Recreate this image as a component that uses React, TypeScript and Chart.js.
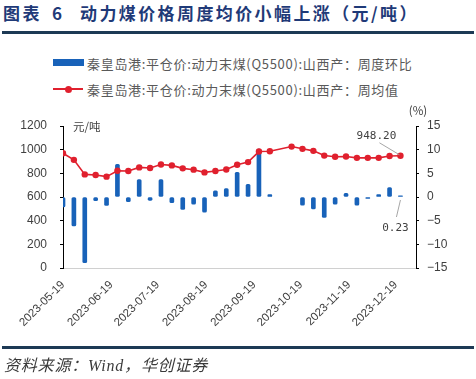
import React, { useEffect, useRef } from "react";
import { Chart, registerables } from "chart.js";

Chart.register(...registerables);

// ---- data ----
const weekDates = [
  "2023-05-19", "2023-05-26", "2023-06-02", "2023-06-09", "2023-06-16", "2023-06-23",
  "2023-06-30", "2023-07-07", "2023-07-14", "2023-07-21", "2023-07-28", "2023-08-04",
  "2023-08-11", "2023-08-18", "2023-08-25", "2023-09-01", "2023-09-08", "2023-09-15",
  "2023-09-22", "2023-09-29", "2023-10-13", "2023-10-20", "2023-10-27", "2023-11-03",
  "2023-11-10", "2023-11-17", "2023-11-24", "2023-12-01", "2023-12-08", "2023-12-15",
  "2023-12-22",
];
const avgPrice = [
  970, 914, 791, 786, 772, 822, 820, 850, 845, 875, 867, 842, 831, 808, 820, 833,
  872, 895, 984, 987, 1026, 1007, 990, 950, 940, 942, 931, 931, 931, 946, 948.2,
];
const weeklyChange: (number | null)[] = [
  -2.1, -6.1, -13.9, -0.8, -1.8, 6.9, -1.0, 3.7, -0.7, 3.7, -1.2, -2.6, -1.5, -3.2,
  1.3, 1.8, 5.2, 2.7, 10.1, 0.5, null, -1.7, -2.5, -4.3, -1.5, 0.8, -1.7, -0.3, 0.5,
  2.0, 0.23,
];
const monthTickLabels = [
  "2023-05-19", "2023-06-19", "2023-07-19", "2023-08-19", "2023-09-19",
  "2023-10-19", "2023-11-19", "2023-12-19",
];
const axisEndDate = "2024-01-01";

const seriesBarName = "秦皇岛港:平仓价:动力末煤(Q5500):山西产：周度环比";
const seriesLineName = "秦皇岛港:平仓价:动力末煤(Q5500):山西产：周均值";
const lastPriceLabel = "948.20";
const lastChangeLabel = "0.23";

// ---- helpers ----
const START = Date.UTC(2023, 4, 19);
const dayOf = (s: string) => {
  const [y, m, d] = s.split("-").map(Number);
  return Math.round((Date.UTC(y, m - 1, d) - START) / 86400000);
};
const tickDays = monthTickLabels.map(dayOf);
const tickLabelByDay: Record<number, string> = {};
monthTickLabels.forEach((l) => (tickLabelByDay[dayOf(l)] = l));

const BLUE = "#1862b9";
const RED = "#e0202e";
const TEXT = "#404040";

const annotatePlugin = {
  id: "annotate",
  afterDatasetsDraw(chart: any) {
    const { ctx, chartArea } = chart;
    ctx.save();
    ctx.fillStyle = TEXT;
    ctx.font = '11.5px "Noto Sans CJK SC"';
    ctx.textBaseline = "middle";
    ctx.textAlign = "left";
    ctx.fillText("元/吨", chartArea.left + 10, chartArea.top + 1);
    ctx.textAlign = "center";
    ctx.fillText("(%)", chartArea.right + 2, chartArea.top - 15);

    const lineMeta = chart.getDatasetMeta(0);
    const barMeta = chart.getDatasetMeta(1);
    const lp = lineMeta.data[lineMeta.data.length - 1];
    const bp = barMeta.data[barMeta.data.length - 1];
    const zeroY = chart.scales.y1.getPixelForValue(0);

    ctx.strokeStyle = "#a6a6a6";
    ctx.lineWidth = 1;
    ctx.beginPath();
    ctx.moveTo(lp.x - 21, lp.y - 13);
    ctx.lineTo(lp.x - 1, lp.y - 1);
    ctx.moveTo(bp.x - 4, zeroY + 20);
    ctx.lineTo(bp.x, zeroY + 3);
    ctx.stroke();

    ctx.fillStyle = TEXT;
    ctx.font = '11px "DejaVu Sans Mono"';
    ctx.textAlign = "center";
    ctx.fillText(lastPriceLabel, lp.x - 24, lp.y - 20);
    ctx.fillText(lastChangeLabel, bp.x - 5, zeroY + 31);
    ctx.restore();
  },
};

export default function App() {
  const ref = useRef<HTMLCanvasElement>(null);

  useEffect(() => {
    const lineData = weekDates.map((d, i) => ({ x: dayOf(d), y: avgPrice[i] }));
    const barData = weekDates
      .map((d, i) => ({ x: dayOf(d), y: weeklyChange[i] }))
      .filter((p) => p.y !== null);

    Chart.defaults.font.family = '"Liberation Sans", Arial, sans-serif';
    Chart.defaults.color = TEXT;

    const chart = new Chart(ref.current!, {
      type: "line",
      data: {
        datasets: [
          {
            type: "line",
            label: seriesLineName,
            data: lineData as any,
            yAxisID: "y",
            borderColor: RED,
            backgroundColor: RED,
            borderWidth: 1.6,
            pointRadius: 3.2,
            pointBorderWidth: 0,
            pointBackgroundColor: RED,
            tension: 0,
          },
          {
            type: "bar",
            label: seriesBarName,
            data: barData as any,
            yAxisID: "y1",
            backgroundColor: BLUE,
            barThickness: 4,
            borderRadius: 1.5,
            borderSkipped: false,
          },
        ],
      },
      options: {
        responsive: false,
        animation: false,
        events: [],
        layout: { padding: { left: 0, right: 0, top: 126, bottom: 0 } },
        plugins: { legend: { display: false }, tooltip: { enabled: false } },
        scales: {
          x: {
            type: "linear",
            min: 0,
            max: dayOf(axisEndDate),
            offset: false,
            grid: { display: false, drawTicks: false },
            border: { display: true, color: "#d0d0d0", width: 1 },
            afterBuildTicks: (axis: any) => {
              axis.ticks = tickDays.map((v) => ({ value: v }));
            },
            afterFit: (s: any) => {
              s.height = 379 - 268;
            },
            ticks: {
              autoSkip: false,
              minRotation: 45,
              maxRotation: 45,
              padding: 10,
              color: TEXT,
              font: { size: 11.5 },
              callback: (v: any) => tickLabelByDay[v] ?? "",
            },
          },
          y: {
            position: "left",
            min: 0,
            max: 1200,
            grid: { display: true, drawOnChartArea: false, drawTicks: true, tickLength: 3, color: "#000" },
            border: { display: true, color: "#000", width: 1 },
            afterFit: (s: any) => {
              s.width = 63;
            },
            ticks: {
              stepSize: 200,
              padding: 13,
              color: TEXT,
              font: { size: 12 },
              callback: (v: any) => String(v),
            },
          },
          y1: {
            position: "right",
            min: -15,
            max: 15,
            grid: { display: true, drawOnChartArea: false, drawTicks: true, tickLength: 3, color: "#000" },
            border: { display: true, color: "#000", width: 1 },
            afterFit: (s: any) => {
              s.width = 60;
            },
            ticks: {
              stepSize: 5,
              padding: 8,
              color: TEXT,
              font: { size: 12 },
              callback: (v: any) => String(v).replace("-", "−"),
            },
          },
        },
      },
      plugins: [annotatePlugin],
    });
    return () => chart.destroy();
  }, []);

  const cjk = '"Noto Sans CJK SC", sans-serif';
  const titleStyle: React.CSSProperties = {
    position: "absolute",
    top: 2,
    font: `bold 17px ${cjk}`,
    lineHeight: "22px",
    color: "#1f3a78",
    whiteSpace: "nowrap",
    letterSpacing: "2.4px",
  };
  const legendText: React.CSSProperties = {
    position: "absolute",
    left: 87,
    font: `13px ${cjk}`,
    lineHeight: "19px",
    color: "#595959",
    whiteSpace: "nowrap",
    letterSpacing: "0.7px",
  };
  return (
    <div
      style={{
        position: "fixed",
        left: 0,
        top: 0,
        width: 476,
        height: 379,
        background: "#fff",
        overflow: "hidden",
      }}
    >
      <div style={{ ...titleStyle, left: 3 }}>图表</div>
      <div style={{ ...titleStyle, left: 52 }}>6</div>
      <div style={{ ...titleStyle, left: 80 }}>动力煤价格周度均价小幅上涨（元/吨）</div>
      <div style={{ position: "absolute", left: 2, top: 31, width: 472, height: 3, background: "#1d3a55" }} />

      {/* legend */}
      <div style={{ position: "absolute", left: 53, top: 59, width: 31, height: 7, background: BLUE }} />
      <div style={{ ...legendText, top: 54 }}>{seriesBarName}</div>
      <div style={{ position: "absolute", left: 53, top: 88, width: 30, height: 2, background: RED }} />
      <div
        style={{
          position: "absolute",
          left: 64.5,
          top: 85.5,
          width: 7,
          height: 7,
          borderRadius: "50%",
          background: RED,
        }}
      />
      <div style={{ ...legendText, top: 79.5 }}>{seriesLineName}</div>

      <canvas ref={ref} width={476} height={379} style={{ position: "absolute", left: 0, top: 0 }} />

      <div style={{ position: "absolute", left: 2, top: 346, width: 472, height: 3, background: "#1d3a55" }} />
      <div
        style={{
          position: "absolute",
          left: 4,
          top: 356,
          font: `italic 16px "Liberation Serif", ${cjk}`,
          lineHeight: "20px",
          color: "#3a3a3a",
          whiteSpace: "nowrap",
          letterSpacing: "0.8px",
        }}
      >
        资料来源：Wind，华创证券
      </div>
    </div>
  );
}
